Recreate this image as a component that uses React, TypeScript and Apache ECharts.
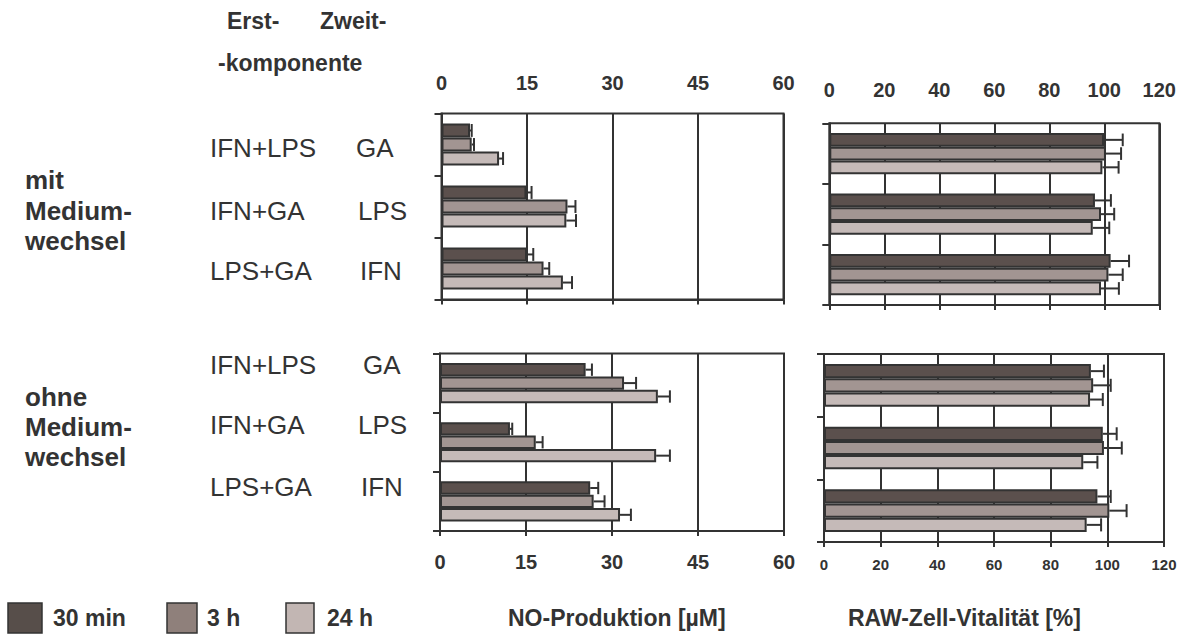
import React, { useEffect, useRef } from 'react';
import * as echarts from 'echarts';

// ---------- data ----------
const firstComponent = ['IFN+LPS', 'IFN+GA', 'LPS+GA'];
const secondComponent = ['GA', 'LPS', 'IFN'];
const categories = firstComponent.map((f, i) => `${f} / ${secondComponent[i]}`);
const seriesNames = ['30 min', '3 h', '24 h'];

const noTicks = [0, 15, 30, 45, 60];
const vitTicks = [0, 20, 40, 60, 80, 100, 120];

// NO-Produktion [µM], mit Mediumwechsel
const noMit30 = [5.0, 14.9, 15.0];
const noMit30Err = [0.3, 0.9, 1.1];
const noMit3h = [5.3, 22.1, 17.9];
const noMit3hErr = [0.4, 1.4, 1.0];
const noMit24 = [10.1, 21.9, 21.3];
const noMit24Err = [0.7, 1.7, 1.6];

// NO-Produktion [µM], ohne Mediumwechsel
const noOhne30 = [25.4, 12.2, 26.2];
const noOhne30Err = [1.1, 0.4, 1.4];
const noOhne3h = [32.1, 16.7, 26.8];
const noOhne3hErr = [2.1, 1.2, 1.9];
const noOhne24 = [38.0, 37.7, 31.4];
const noOhne24Err = [2.1, 2.4, 1.9];

// RAW-Zell-Vitalität [%], mit Mediumwechsel
const vitMit30 = [99.9, 96.6, 102.3];
const vitMit30Err = [6.8, 5.8, 6.7];
const vitMit3h = [100.6, 98.8, 101.5];
const vitMit3hErr = [5.5, 4.8, 5.2];
const vitMit24 = [99.3, 95.8, 98.8];
const vitMit24Err = [5.9, 6.0, 6.5];

// RAW-Zell-Vitalität [%], ohne Mediumwechsel
const vitOhne30 = [94.2, 98.4, 96.5];
const vitOhne30Err = [4.6, 4.9, 4.7];
const vitOhne3h = [95.0, 98.8, 100.7];
const vitOhne3hErr = [6.2, 6.3, 6.1];
const vitOhne24 = [93.9, 91.5, 92.7];
const vitOhne24Err = [4.5, 5.0, 5.1];

// ---------- styling ----------
const INK = '#333333';
const FONT = '"Liberation Sans", Arial, Helvetica, sans-serif';
const barColors = ['#5b504d', '#a29592', '#c5bab8'];
const legendColors = ['#574e4a', '#8f807b', '#c2b6b3'];
const GAP = 0.32;

type Panel = {
  grid: { left: number; top: number; width: number; height: number };
  max: number;
  interval: number;
  labelsTop: boolean;
  labelSize: number;
  labelMargin: number;
  values: number[][];
  errors: number[][];
};

const panels: Panel[] = [
  {
    grid: { left: 441.5, top: 113.5, width: 342, height: 186 },
    max: noTicks[noTicks.length - 1], interval: noTicks[1] - noTicks[0],
    labelsTop: true, labelSize: 20, labelMargin: 21,
    values: [noMit30, noMit3h, noMit24], errors: [noMit30Err, noMit3hErr, noMit24Err],
  },
  {
    grid: { left: 440, top: 353.5, width: 344, height: 177.5 },
    max: noTicks[noTicks.length - 1], interval: noTicks[1] - noTicks[0],
    labelsTop: false, labelSize: 20, labelMargin: 21,
    values: [noOhne30, noOhne3h, noOhne24], errors: [noOhne30Err, noOhne3hErr, noOhne24Err],
  },
  {
    grid: { left: 829.3, top: 123.3, width: 330, height: 181.7 },
    max: vitTicks[vitTicks.length - 1], interval: vitTicks[1] - vitTicks[0],
    labelsTop: true, labelSize: 20, labelMargin: 23,
    values: [vitMit30, vitMit3h, vitMit24], errors: [vitMit30Err, vitMit3hErr, vitMit24Err],
  },
  {
    grid: { left: 824, top: 354, width: 340, height: 188 },
    max: vitTicks[vitTicks.length - 1], interval: vitTicks[1] - vitTicks[0],
    labelsTop: false, labelSize: 15, labelMargin: 15,
    values: [vitOhne30, vitOhne3h, vitOhne24], errors: [vitOhne30Err, vitOhne3hErr, vitOhne24Err],
  },
];

const makeErrRenderer = (seriesIdx: number) => (params: any, api: any) => {
  const v = api.value(0);
  const c = api.value(1);
  const e = api.value(2);
  const band = api.size([0, 1])[1];
  const barW = (band * (1 - GAP)) / 3;
  const start = api.coord([v, c]);
  const y = start[1] + (seriesIdx - 1) * barW;
  const xEnd = api.coord([v + e, c])[0];
  const cap = barW * 0.92;
  const style = { stroke: INK, lineWidth: 2 };
  return {
    type: 'group',
    children: [
      { type: 'line', shape: { x1: start[0], y1: y, x2: xEnd, y2: y }, style },
      { type: 'line', shape: { x1: xEnd, y1: y - cap / 2, x2: xEnd, y2: y + cap / 2 }, style },
    ],
  };
};

const txt = (text: string, x: number, y: number, size: number, bold: boolean, align = 'left') => ({
  type: 'text',
  x,
  y,
  silent: true,
  style: {
    text,
    fill: INK,
    font: `${bold ? 'bold ' : ''}${size}px ${FONT}`,
    textAlign: align,
    textVerticalAlign: 'middle',
    align,
    verticalAlign: 'middle',
  },
});

export default function App() {
  const ref = useRef<HTMLDivElement>(null);

  useEffect(() => {
    if (!ref.current) return;
    const chart = echarts.init(ref.current, undefined, { renderer: 'svg' });

    const grid: any[] = [];
    const xAxis: any[] = [];
    const yAxis: any[] = [];
    const series: any[] = [];

    panels.forEach((p, i) => {
      grid.push({
        left: p.grid.left, top: p.grid.top, width: p.grid.width, height: p.grid.height,
        show: true, borderColor: INK, borderWidth: 2, backgroundColor: 'transparent',
      });
      const labelStyle = {
        color: INK, fontWeight: 'bold', fontSize: p.labelSize, fontFamily: FONT, margin: p.labelMargin,
      };
      xAxis.push({
        type: 'value', gridIndex: i, position: 'bottom', min: 0, max: p.max, interval: p.interval,
        axisLine: { show: true, lineStyle: { color: INK, width: 2 } },
        axisTick: { show: true, length: 5, lineStyle: { color: INK, width: 2 } },
        axisLabel: { show: !p.labelsTop, ...labelStyle },
        splitLine: { show: true, lineStyle: { color: INK, width: 2 } },
      });
      xAxis.push({
        type: 'value', gridIndex: i, position: 'top', min: 0, max: p.max, interval: p.interval,
        axisLine: { show: false }, axisTick: { show: false },
        axisLabel: { show: p.labelsTop, ...labelStyle },
        splitLine: { show: false },
      });
      yAxis.push({
        type: 'category', gridIndex: i, data: categories, inverse: true,
        axisLine: { show: true, lineStyle: { color: INK, width: 2 } },
        axisTick: { show: true, length: 7, lineStyle: { color: INK, width: 2 } },
        axisLabel: { show: false },
        splitLine: { show: false },
      });
      p.values.forEach((vals, s) => {
        series.push({
          type: 'bar', name: seriesNames[s], xAxisIndex: 2 * i, yAxisIndex: i,
          data: vals, barGap: '0%', barCategoryGap: `${GAP * 100}%`,
          itemStyle: { color: barColors[s], borderColor: INK, borderWidth: 2 },
          z: 2,
        });
      });
      p.values.forEach((vals, s) => {
        series.push({
          type: 'custom', name: `${seriesNames[s]} err`, xAxisIndex: 2 * i, yAxisIndex: i,
          data: vals.map((v, c) => [v, c, p.errors[s][c]]),
          encode: { x: 0, y: 1 },
          renderItem: makeErrRenderer(s),
          z: 3,
        });
      });
    });

    const graphic: any[] = [
      txt('Erst-', 227, 21, 23, true),
      txt('Zweit-', 320, 21, 23, true),
      txt('-komponente', 218, 63, 23, true),
      txt('mit', 25, 180, 26, true),
      txt('Medium-', 25, 211, 26, true),
      txt('wechsel', 25, 241, 26, true),
      txt('ohne', 25, 397, 26, true),
      txt('Medium-', 25, 427, 26, true),
      txt('wechsel', 25, 457, 26, true),
    ];
    const topRows = [148, 211, 271];
    const botRows = [365, 425, 487];
    const secondX = [356, 358, 360];
    const secondXBot = [363, 358, 361];
    firstComponent.forEach((f, k) => {
      graphic.push(txt(f, 210, topRows[k], 26, false));
      graphic.push(txt(secondComponent[k], secondX[k], topRows[k], 26, false));
      graphic.push(txt(f, 210, botRows[k], 26, false));
      graphic.push(txt(secondComponent[k], secondXBot[k], botRows[k], 26, false));
    });
    const legendBoxes = [
      { x: 8, w: 34, tx: 53 },
      { x: 167, w: 30, tx: 207 },
      { x: 286, w: 28, tx: 327 },
    ];
    legendBoxes.forEach((b, k) => {
      graphic.push({
        type: 'rect', silent: true,
        shape: { x: b.x, y: 603, width: b.w, height: 30 },
        style: { fill: legendColors[k], stroke: INK, lineWidth: 1.5 },
      });
      graphic.push(txt(seriesNames[k], b.tx, 618, 23, true));
    });
    graphic.push(txt('NO-Produktion [µM]', 508, 618, 23, true));
    graphic.push(txt('RAW-Zell-Vitalität [%]', 848, 618, 23, true));

    chart.setOption({
      animation: false,
      backgroundColor: '#ffffff',
      textStyle: { fontFamily: FONT },
      grid,
      xAxis,
      yAxis,
      series,
      graphic,
    });

    return () => chart.dispose();
  }, []);

  return (
    <div
      ref={ref}
      style={{ position: 'fixed', left: 0, top: 0, width: 1185, height: 635, background: '#fff' }}
    />
  );
}
